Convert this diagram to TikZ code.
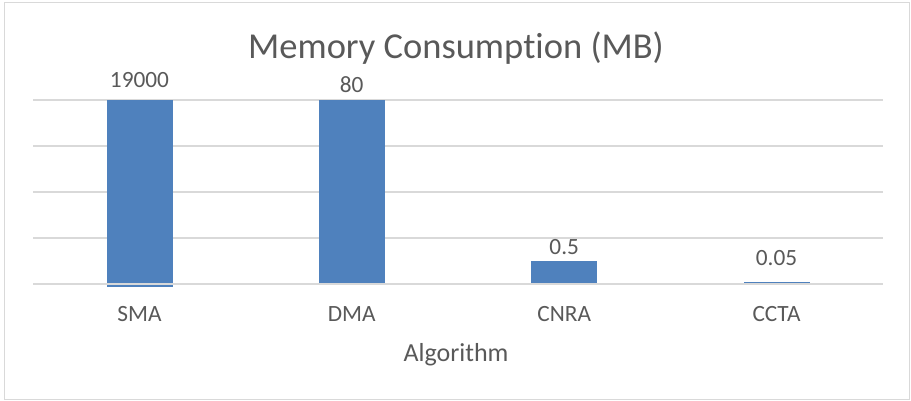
\documentclass[tikz,border=0pt]{standalone}
\usepackage{fontspec}
\setmainfont[Ligatures={NoCommon,NoContextual}, Contextuals=NoAlternate]{Carlito}
\usepackage{tikz}
\usetikzlibrary{positioning}
\definecolor{chBlue}{RGB}{79,129,189}
\definecolor{chGrid}{RGB}{217,217,217}
\definecolor{chText}{RGB}{89,89,89}
\definecolor{chFrame}{RGB}{217,217,217}

\begin{document}
\begin{tikzpicture}[x=1pt, y=-1pt,
	bar/.style={fill=chBlue, draw=none, minimum width=66pt, inner sep=0pt, outer sep=0pt, anchor=south},
	val/.style={text=chText, inner sep=0pt, font=\fontsize{23.3}{28}\selectfont},
	cat/.style={text=chText, inner sep=0pt, anchor=base, font=\fontsize{23.3}{28}\selectfont},
	grid/.style={chGrid, line width=1.2pt}]
	\useasboundingbox (0,0) rectangle (911,401);
	\draw[chFrame, line width=1pt] (4.5,2.5) rectangle (909.5,399.5);
	\node[text=chText, inner sep=0pt, anchor=base, font=\fontsize{36.5}{44}\selectfont] (title) at (456,58.5) {Memory Consump\kern0pt tion (MB)};
	% grid
	\draw[grid] (33,100) -- (883,100);
	\draw[grid] (33,146) -- (883,146);
	\draw[grid] (33,192) -- (883,192);
	\draw[grid] (33,238) -- (883,238);
	% bars
	\node[bar, minimum height=186.7pt] (sma) at (139.5,286.7) {};
	\node[bar, minimum height=183.5pt] (dma) at (351.7,283.5) {};
	\node[bar, minimum height=23pt] (cnra) at (564.2,284) {};
	\node[bar, minimum height=1.5pt] (ccta) at (776.5,283) {};
	\draw[grid] (33,284) -- (883,284);
	% values
	\node[val, above=11.7pt of sma] (smaval) {19000};
	\node[val, above=7.5pt of dma] (dmaval) {80};
	\node[val, above=6pt of cnra] (cnraval) {0.5};
	\node[val, above=16pt of ccta] (cctaval) {0.05};
	% categories
	\node[cat] (smalab) at (139.5,321.7) {SMA};
	\node[cat] (dmalab) at (351.7,321.7) {DMA};
	\node[cat] (cnralab) at (564.2,321.7) {CNRA};
	\node[cat] (cctalab) at (776.5,321.7) {CCTA};
	\node[cat, font=\fontsize{26}{31}\selectfont] (xtitle) at (456,361.7) {Algorithm};
\end{tikzpicture}
\end{document}
